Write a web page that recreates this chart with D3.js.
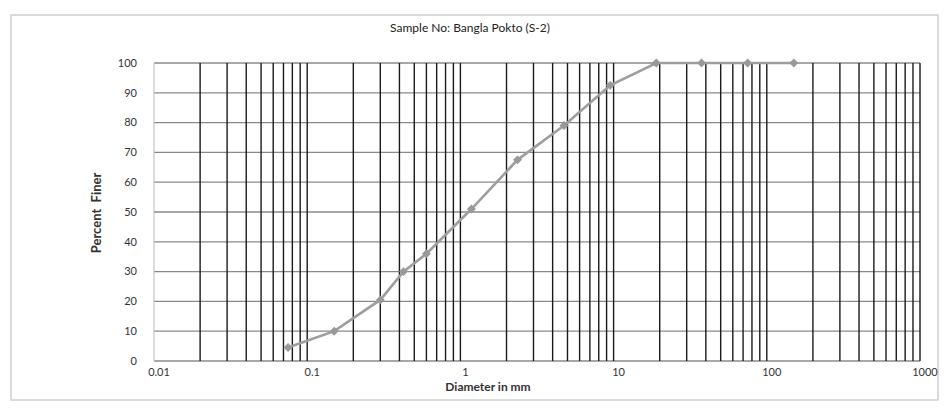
<!DOCTYPE html>
<html><head><meta charset="utf-8">
<script src="https://cdn.jsdelivr.net/npm/d3@7"></script>
<style>body{margin:0;background:#fff}svg{display:block}</style>
</head><body>
<script>
// Data
const sieveSizes = [0.075, 0.15, 0.3, 0.425, 0.6, 1.18, 2.36, 4.75, 9.5, 19, 37.5, 75, 150];
const percentFiner = [4.5, 10, 20.5, 30, 36, 51, 67.5, 79, 92.5, 100, 100, 100, 100];
const xTickValues = [0.01, 0.1, 1, 10, 100, 1000];
const xTickLabels = ["0.01", "0.1", "1", "10", "100", "1000"];
const yTickValues = [0, 10, 20, 30, 40, 50, 60, 70, 80, 90, 100];

const W = 948, H = 408;
const svg = d3.select("body").append("svg").attr("width", W).attr("height", H);
const font = "Lato, 'Open Sans', sans-serif";

// outer frame
svg.append("rect").attr("x", 11).attr("y", 15).attr("width", 927).attr("height", 385)
  .attr("fill", "#fff").attr("stroke", "#cfcfcf").attr("stroke-width", 1.5);

const x = d3.scaleLog().domain([0.01, 1000]).range([154, 920]);
const y = d3.scaleLinear().domain([0, 100]).range([361, 63]);

// horizontal gridlines
svg.append("g").selectAll("line").data(yTickValues).join("line")
  .attr("x1", x(0.01)).attr("x2", x(1000))
  .attr("y1", d => y(d)).attr("y2", d => y(d))
  .attr("stroke", "#8a8a8a").attr("stroke-width", 1.3);

// vertical gridlines (log minor + major)
const vLines = [];
for (let e = -2; e <= 2; e++) {
  for (let k = 2; k <= 10; k++) vLines.push(k * Math.pow(10, e));
}
svg.append("g").selectAll("line").data(vLines).join("line")
  .attr("x1", d => x(d)).attr("x2", d => x(d))
  .attr("y1", y(100)).attr("y2", y(0))
  .attr("stroke", "#1a1a1a").attr("stroke-width", 1.4);
// y axis line at 0.01
svg.append("line").attr("x1", x(0.01)).attr("x2", x(0.01)).attr("y1", y(100)).attr("y2", y(0))
  .attr("stroke", "#bbb").attr("stroke-width", 1);

// y tick labels
svg.append("g").selectAll("text").data(yTickValues).join("text")
  .attr("x", 137).attr("y", d => y(d)).attr("dy", "0.35em")
  .attr("text-anchor", "end").attr("font-family", font).attr("font-size", 11)
  .attr("fill", "#333").text(d => d);

// x tick labels
svg.append("g").selectAll("text").data(xTickValues).join("text")
  .attr("x", d => x(d) + 5).attr("y", 376)
  .attr("text-anchor", "middle").attr("font-family", font).attr("font-size", 11)
  .attr("fill", "#333").text((d, i) => xTickLabels[i]);

// title
svg.append("text").attr("x", 470).attr("y", 32).attr("text-anchor", "middle")
  .attr("font-family", font).attr("font-size", 12).attr("fill", "#222")
  .text("Sample No: Bangla Pokto (S-2)");
// axis titles
svg.append("text").attr("transform", "translate(101,213) rotate(-90)").attr("text-anchor", "middle")
  .attr("font-family", font).attr("font-size", 13).attr("font-weight", "bold").attr("fill", "#333")
  .attr("xml:space", "preserve").text("Percent  Finer");
svg.append("text").attr("x", 488).attr("y", 391).attr("text-anchor", "middle")
  .attr("font-family", font).attr("font-size", 12).attr("font-weight", "bold").attr("fill", "#333")
  .text("Diameter in mm");

// curve
const pts = sieveSizes.map((s, i) => [s, percentFiner[i]]);
svg.append("path").datum(pts)
  .attr("d", d3.line().x(d => x(d[0])).y(d => y(d[1])))
  .attr("fill", "none").attr("stroke", "#9e9e9e").attr("stroke-width", 2.6);
svg.append("g").selectAll("path").data(pts).join("path")
  .attr("transform", d => `translate(${x(d[0])},${y(d[1])}) rotate(45)`)
  .attr("d", d3.symbol().type(d3.symbolSquare).size(40))
  .attr("fill", "#999");
</script>
</body></html>
